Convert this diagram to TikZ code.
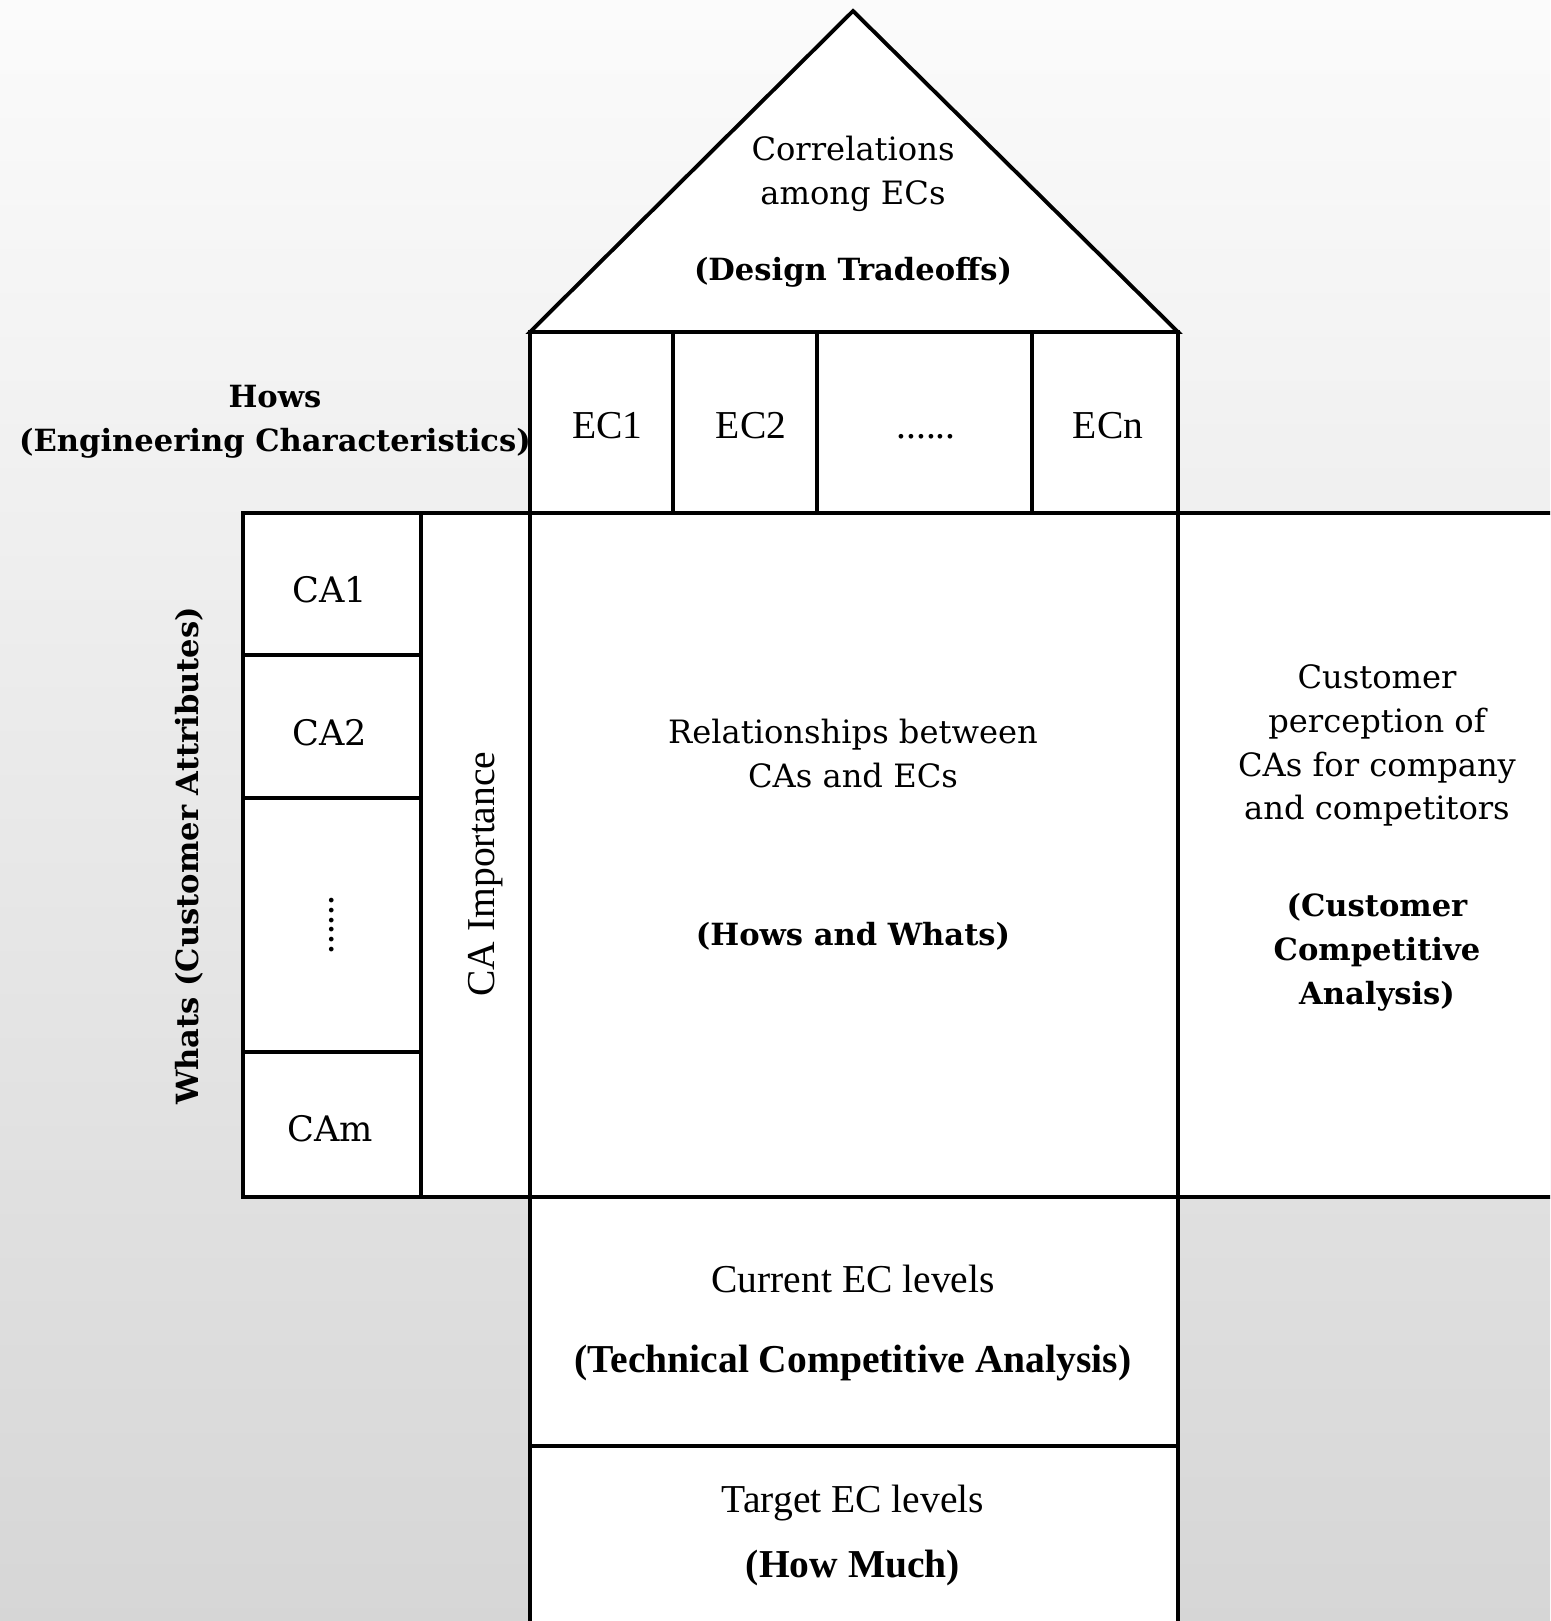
\documentclass[tikz,border=0pt]{standalone}
\usepackage{fontspec}
\setmainfont{Liberation Serif}
\newfontfamily\cent{DejaVu Serif}
\usepackage{tikz}
\tikzstyle{cell}=[draw=black,fill=white,line width=2.2pt]
\tikzstyle{tms}=[font=\fontsize{22.5}{26}\selectfont,align=center,inner sep=0mm]
\tikzstyle{tmsb}=[font=\bfseries\fontsize{22.5}{26}\selectfont,align=center,inner sep=0mm]
\tikzstyle{cen}=[font=\cent\fontsize{18.3}{25}\selectfont,align=center,inner sep=0mm]
\tikzstyle{cenb}=[font=\cent\bfseries\fontsize{17.4}{25}\selectfont,align=center,inner sep=0mm]

\begin{document}
\begin{tikzpicture}[x=1cm,y=-1cm]
      \useasboundingbox (0,0) rectangle (31,32.42);
      \clip (0,0) rectangle (31,32.42);
      \shade[top color=gray!3,bottom color=gray!32] (0,0) rectangle (31,32.42);
      \filldraw[cell] (10.6,6.64) -- (17.06,0.22) -- (23.56,6.64) -- cycle;
      \filldraw[cell] (10.6,6.64) rectangle (23.56,10.26);
      \foreach \x in {13.46,16.34,20.64}
        \draw[cell] (\x,6.64) -- (\x,10.26);
      \filldraw[cell] (4.86,10.26) rectangle (8.42,23.94);
      \foreach \y in {13.1,15.96,21.04}
        \draw[cell] (4.86,\y) -- (8.42,\y);
      \filldraw[cell] (8.42,10.26) rectangle (10.6,23.94);
      \filldraw[cell] (10.6,10.26) rectangle (23.56,23.94);
      \filldraw[cell] (23.56,10.26) rectangle (31.5,23.94);
      \filldraw[cell] (10.6,23.94) rectangle (23.56,28.92);
      \filldraw[cell] (10.6,28.92) rectangle (23.56,33);
      \node[cen] at (17.06,3.47) (corr) {Correlations\\among ECs};
      \node[cenb] at (17.06,5.44) (trade) {(Design Tradeoffs)};
      \node[cenb] at (5.5,8.43) (hows) {Hows\\(Engineering Characteristics)};
      \node[tms,anchor=base] at (12.15,8.77) (ec1) {EC1};
      \node[tms,anchor=base] at (15.02,8.77) (ec2) {EC2};
      \node[tms,anchor=base] at (18.52,8.77) (ecd) {......};
      \node[tms,anchor=base] at (22.16,8.77) (ecn) {ECn};
      \node[cen,font=\cent\fontsize{20}{25}\selectfont,anchor=base] at (6.6,12.04) (ca1) {CA1};
      \node[cen,font=\cent\fontsize{20}{25}\selectfont,anchor=base] at (6.6,14.91) (ca2) {CA2};
      \node[tms,rotate=90] at (6.64,18.5) (cad) {......};
      \node[cen,font=\cent\fontsize{20}{25}\selectfont,anchor=base] at (6.6,22.83) (cam) {CAm};
      \node[tms,rotate=90] at (9.72,17.48) (imp) {CA Importance};
      \node[cenb,rotate=90] at (3.78,17.12) (whats) {Whats (Customer Attributes)};
      \node[cen] at (17.06,15.07) (rel) {Relationships between\\CAs and ECs};
      \node[cenb] at (17.06,18.72) (hw) {(Hows and Whats)};
      \node[cen] at (27.54,14.91) (perc) {Customer\\perception of\\CAs for company\\and competitors};
      \node[cenb] at (27.54,19.04) (cca) {(Customer\\Competitive\\Analysis)};
      \node[tms] at (17.06,25.58) (cur) {Current EC levels};
      \node[tmsb] at (17.06,27.26) (tca) {(Technical Competitive Analysis)};
      \node[tms] at (17.06,30.06) (tgt) {Target EC levels};
      \node[tmsb] at (17.06,31.36) (much) {(How Much)};
    \end{tikzpicture}
\end{document}
